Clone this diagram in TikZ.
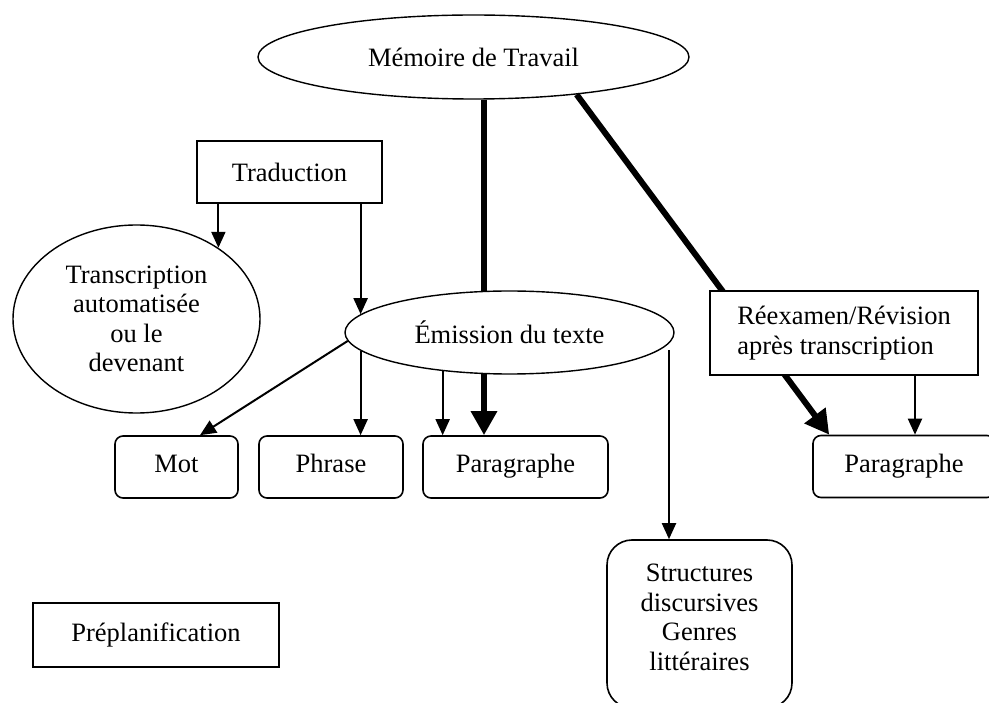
\documentclass[tikz,border=0pt]{standalone}
\usepackage{fontspec}
\setmainfont{Liberation Serif}
\usetikzlibrary{arrows.meta,shapes.geometric}
\tikzset{
	oval/.style={ellipse, draw, line width=1.4pt, fill=white, inner sep=0pt, align=center},
	boite/.style={rectangle, draw, line width=1.6pt, fill=white, inner sep=0pt, align=center},
	arrondi/.style={boite, rounded corners=8pt},
	unite/.style={arrondi, text height=18pt, text depth=6pt, minimum height=62pt},
	fleche/.style={line width=2pt, -{Triangle[length=16pt,width=14pt]}},
	grossefleche/.style={line width=6pt, -{Triangle[length=24pt,width=25pt]}}
}

\begin{document}
\begin{tikzpicture}[x=1pt, y=-1pt, font=\fontsize{26.5}{29.5}\selectfont]
		%%%%% START %%%%%
		\useasboundingbox (0,0) rectangle (989,703);
		\clip (0,0) rectangle (989,703);
		
		\node[oval, minimum width=431pt, minimum height=84pt] (memoire) at (473.5,57) {Mémoire de Travail};
		\node[boite, minimum width=185pt, minimum height=62pt] (trad) at (289.5,172) {Traduction};
		\node[oval, minimum width=247pt, minimum height=188pt] (transcr) at (136.5,319) {Transcription\\automatisée\\ou le\\devenant};
		
		\node[unite, minimum width=123pt] (mot) at (176.5,467) {Mot};
		\node[unite, minimum width=144pt] (phrase) at (331,467) {Phrase};
		\node[unite, minimum width=185pt] (para) at (515.5,467) {Paragraphe};
		\node[unite, minimum width=182pt] (parab) at (904,466.5) {Paragraphe};
		
		% les deux gros traits passent sous les bulles
		\draw[grossefleche] ([xshift=10.5pt]memoire.south) -- ([xshift=-31.5pt]para.north);
		\draw[grossefleche] (memoire.-20) -- ([xshift=17pt]parab.north west);
		
		\node[oval, minimum width=329pt, minimum height=83pt] (emission) at (509.5,332.5) {Émission du texte};
		\node[boite, minimum width=268pt, minimum height=84pt, align=left] (reex) at (844,333) {Réexamen/Révision\\après transcription};
		\node[arrondi, rounded corners=25pt, minimum width=185pt, minimum height=168pt] (struct) at (699.5,624) {Structures\\discursives\\Genres\\littéraires\rule[-14pt]{0pt}{14pt}};
		\node[boite, minimum width=246pt, minimum height=64pt] (prepl) at (156,635) {Préplanification};
		
		\draw[fleche] (transcr.41 |- trad.south) -- (transcr.41);
		\draw[fleche] (trad.south -| emission.173) -- (emission.173);
		
		\draw[fleche] (emission.183) -- ([xshift=23.5pt]mot.north);
		\draw[fleche] (emission.187) -- (emission.187 |- phrase.north);
		\draw[fleche] (emission.210) -- (emission.210 |- para.north);
		
		\coordinate (emr) at (669,350);
		\draw[fleche] (emr) -- (emr |- struct.north);
		\draw[fleche] ([xshift=71pt]reex.south) -- ([xshift=71pt]reex.south |- parab.north);
		
		%%%%% END %%%%%
\end{tikzpicture}
\end{document}
